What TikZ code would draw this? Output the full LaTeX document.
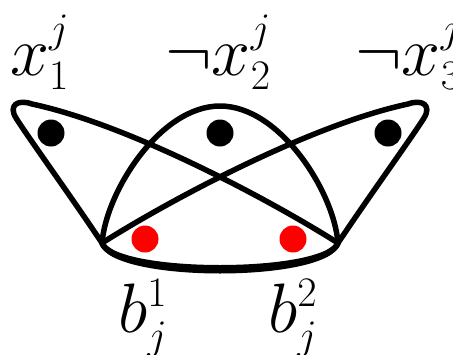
\RequirePackage{fix-cm}
\documentclass[tikz,border=0pt]{standalone}
\usepackage{amsmath, amssymb}
\usepackage{tikz}
\usepackage{xcolor}
\usetikzlibrary{positioning}
\DeclareMathSizes{70}{70}{42}{30}

\begin{document}
\begin{tikzpicture}[
        x=1pt, y=-1pt,
        edge/.style={draw, line width=5.5pt, line join=round},
        bdot/.style={circle, fill=black, inner sep=0pt, minimum size=27pt},
        rdot/.style={circle, fill=red, inner sep=0pt, minimum size=27pt},
        lbl/.style={anchor=base west, inner sep=0pt, font=\fontsize{70}{84}\selectfont},
    ]
    \useasboundingbox (0,0) rectangle (453,354);

    % corners shared by the three hyperedges
    \coordinate (bl) at (102,243);
    \coordinate (br) at (338,243);

    % left hyperedge
    \path[edge] (bl) .. controls (70,195) and (30,140) .. (16,118)
        .. controls (8,105) and (18,99) .. (32,104)
        .. controls (130,125) and (270,200) .. (br)
        .. controls (325,276) and (115,276) .. (bl) -- cycle;

    % right hyperedge
    \path[edge] (br) .. controls (370,195) and (410,140) .. (424,118)
        .. controls (432,105) and (422,99) .. (408,104)
        .. controls (310,125) and (170,200) .. (bl)
        .. controls (115,278) and (325,278) .. (br) -- cycle;

    % middle hyperedge
    \path[edge] (bl) .. controls (106,192) and (160,106) .. (220,106)
        .. controls (280,106) and (334,192) .. (br)
        .. controls (325,280) and (115,280) .. (bl) -- cycle;

    % vertices
    \node[bdot] (x1) at (51,133) {};
    \node[bdot] (x2) at (220,133) {};
    \node[bdot] (x3) at (388,133) {};
    \node[rdot] (b1) at (145,239) {};
    \node[rdot] (b2) at (293,239) {};

    % labels
    \node[lbl] (lx1) at (10,75) {$x_1^j$};
    \node[lbl] (lx2) at (165,75) {$\neg x_2^j$};
    \node[lbl] (lx3) at (355,75) {$\neg x_3^j$};
    \node[lbl] (lb1) at (118,332) {$b_j^1$};
    \node[lbl] (lb2) at (268,332) {$b_j^2$};
\end{tikzpicture}
\end{document}
